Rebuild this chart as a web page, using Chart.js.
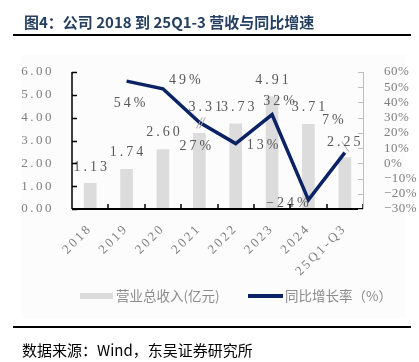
<!DOCTYPE html>
<html>
<head>
<meta charset="utf-8">
<script src="https://cdn.jsdelivr.net/npm/chart.js@4"></script>
<style>
  body { margin: 0; background: #fff; }
  #wrap { width: 419px; height: 362px; }
</style>
</head>
<body>
<div id="wrap"><canvas id="revChart" width="419" height="362"></canvas></div>
<script>
// data
const categories = ['2018', '2019', '2020', '2021', '2022', '2023', '2024', '25Q1-Q3'];
const revenue = [1.13, 1.74, 2.60, 3.31, 3.73, 4.91, 3.71, 2.25];      // 营业总收入(亿元)
const growth = [null, 54, 49, 27, 13, 32, -24, 7];                     // 同比增长率(%)
const leftTicks = [0, 1, 2, 3, 4, 5, 6];
const rightTicks = [-30, -20, -10, 0, 10, 20, 30, 40, 50, 60];

// label nudges (px) relative to the bar top / line point, like the original Excel placement
const barLabelShift = [[0, -16], [0, -17], [0, -17], [6, -26], [2, -17], [0, -17], [0, -17], [-1, -15]];
const lineLabelShift = [null, [3, 22], [22, -8], [-4, 24], [27, 2], [7, -13], [-21, 3], [-12, -32]];

const NUM = '"Liberation Serif", "DejaVu Serif", serif';
const CJK = '"Noto Sans CJK SC", "Noto Sans", sans-serif';
const NAVY = '#0b2265';
const BAR_GREY = '#dcdcdc';

// SimSun-ish wide spacing per axis
const axisSpacing = { x: '2.5px', y: '2.5px', y1: '0.5px' };

function pct(v) {
    return (v < 0 ? '\u2212' + Math.abs(v) : v) + '%';
}

const decorPlugin = {
    id: 'decor',
    afterLayout(chart) {
        Object.keys(axisSpacing).forEach(id => {
            const s = chart.scales[id];
            if (!s || s._spaced) return;
            const orig = s.drawLabels.bind(s);
            s.drawLabels = area => {
                const c = chart.ctx;
                c.save();
                c.letterSpacing = axisSpacing[id];
                orig(area);
                c.restore();
            };
            s._spaced = true;
        });
    },
    beforeDraw(chart) {
        const c = chart.ctx;
        c.save();
        c.fillStyle = '#fcfcfc';
        c.fillRect(22, 55, 383, 263);
        c.restore();
    },
    afterDatasetsDraw(chart) {
        const c = chart.ctx;
        const bars = chart.getDatasetMeta(0).data;
        const pts = chart.getDatasetMeta(1).data;
        c.save();
        c.textAlign = 'center';
        c.textBaseline = 'middle';
        c.font = '14px ' + NUM;
        c.letterSpacing = '3px';
        c.fillStyle = '#595959';

        // leader lines for the two displaced labels
        c.strokeStyle = '#a6a6a6';
        c.lineWidth = 1;
        const b3 = bars[3];
        c.beginPath();
        c.moveTo(b3.x - 3, b3.y - 5);
        c.lineTo(b3.x + 3, b3.y - 16);
        c.moveTo(b3.x - 0, b3.y - 5);
        c.lineTo(b3.x + 6, b3.y - 16);
        c.stroke();
        const b7 = bars[7];
        c.beginPath();
        c.moveTo(b7.x - 3, b7.y - 16);
        c.lineTo(b7.x + 4, b7.y - 6);
        c.stroke();

        bars.forEach((b, i) => {
            const s = barLabelShift[i];
            c.fillText(revenue[i].toFixed(2), b.x + s[0] + 1.5, b.y + s[1]);
        });
        pts.forEach((p, i) => {
            if (growth[i] === null) return;
            const s = lineLabelShift[i];
            c.fillText(pct(growth[i]), p.x + s[0] + 1.5, p.y + s[1]);
        });
        c.restore();
    },
    afterDraw(chart) {
        const c = chart.ctx;
        const a = chart.chartArea;
        const x = chart.scales.x;
        const y = chart.scales.y;
        const y1 = chart.scales.y1;
        c.save();
        c.letterSpacing = '0px';

        // left axis with inward ticks
        c.strokeStyle = '#000';
        c.lineWidth = 1.5;
        c.beginPath();
        c.moveTo(a.left, a.top);
        c.lineTo(a.left, a.bottom);
        leftTicks.forEach(v => {
            const py = Math.round(y.getPixelForValue(v)) + 0.5;
            c.moveTo(a.left, py);
            c.lineTo(a.left + 5, py);
        });
        c.stroke();

        // bottom axis with ticks between categories
        c.lineWidth = 2;
        c.beginPath();
        c.moveTo(a.left, a.bottom);
        c.lineTo(a.right, a.bottom);
        c.stroke();
        c.lineWidth = 1.5;
        c.beginPath();
        for (let i = 1; i <= categories.length; i++) {
            const px = Math.round((x.getPixelForValue(i - 1) + x.getPixelForValue(i)) / 2);
            const bx = i === categories.length ? a.right : px;
            c.moveTo(bx, a.bottom);
            c.lineTo(bx, a.bottom - 5);
        }
        c.stroke();

        // right axis, grey
        c.strokeStyle = '#bfbfbf';
        c.lineWidth = 1;
        c.beginPath();
        c.moveTo(a.right + 0.5, a.top);
        c.lineTo(a.right + 0.5, a.bottom);
        rightTicks.forEach(v => {
            const py = Math.round(y1.getPixelForValue(v)) + 0.5;
            c.moveTo(a.right, py);
            c.lineTo(a.right - 5, py);
        });
        c.stroke();

        // title + rules + source
        c.fillStyle = '#243f60';
        c.font = 'bold 15px ' + CJK;
        c.textBaseline = 'middle';
        c.textAlign = 'left';
        c.fillText('图4：公司 2018 到 25Q1-3 营收与同比增速', 24, 22);
        c.strokeStyle = '#000';
        c.lineWidth = 2;
        c.beginPath();
        c.moveTo(13, 35);
        c.lineTo(411, 35);
        c.moveTo(13, 327);
        c.lineTo(411, 327);
        c.stroke();
        c.fillStyle = '#000';
        c.font = '15px ' + CJK;
        c.fillText('数据来源：Wind，东吴证券研究所', 22, 350);

        // legend
        c.fillStyle = BAR_GREY;
        c.fillRect(80, 293, 33, 6);
        c.strokeStyle = NAVY;
        c.lineWidth = 4;
        c.beginPath();
        c.moveTo(248, 296);
        c.lineTo(283, 296);
        c.stroke();
        c.fillStyle = '#8c8c8c';
        c.font = '13.5px ' + CJK;
        c.fillText('营业总收入(亿元)', 116, 296);
        c.fillText('同比增长率（%）', 285, 296);
        c.restore();
    }
};

const ctx = document.getElementById('revChart').getContext('2d');
new Chart(ctx, {
    type: 'bar',
    data: {
        labels: categories,
        datasets: [{
            type: 'bar',
            label: '营业总收入(亿元)',
            data: revenue,
            backgroundColor: BAR_GREY,
            barThickness: 12,
            yAxisID: 'y',
            order: 2
        }, {
            type: 'line',
            label: '同比增长率（%）',
            data: growth,
            borderColor: NAVY,
            borderWidth: 3.5,
            pointRadius: 0,
            tension: 0,
            fill: false,
            yAxisID: 'y1',
            order: 1
        }]
    },
    options: {
        responsive: false,
        animation: false,
        layout: { padding: { top: 72, left: 0, right: 0, bottom: 0 } },
        plugins: {
            legend: { display: false },
            tooltip: { enabled: false }
        },
        scales: {
            x: {
                grid: { display: false },
                border: { display: false },
                ticks: {
                    minRotation: 45,
                    maxRotation: 45,
                    padding: 4,
                    color: '#7f7f7f',
                    font: { family: NUM, size: 13 }
                },
                afterFit: s => { s.height = 153; }
            },
            y: {
                position: 'left',
                min: 0,
                max: 6,
                grid: { display: false },
                border: { display: false },
                ticks: {
                    stepSize: 1,
                    padding: 10,
                    color: '#7f7f7f',
                    font: { family: NUM, size: 13 },
                    callback: v => v.toFixed(2)
                },
                afterFit: s => { s.width = 72; }
            },
            y1: {
                position: 'right',
                min: -30,
                max: 60,
                grid: { display: false },
                border: { display: false },
                ticks: {
                    stepSize: 10,
                    autoSkip: false,
                    padding: 13,
                    color: '#7f7f7f',
                    font: { family: NUM, size: 13 },
                    callback: v => pct(v)
                },
                afterFit: s => { s.width = 56; }
            }
        }
    },
    plugins: [decorPlugin]
});
</script>
</body>
</html>
